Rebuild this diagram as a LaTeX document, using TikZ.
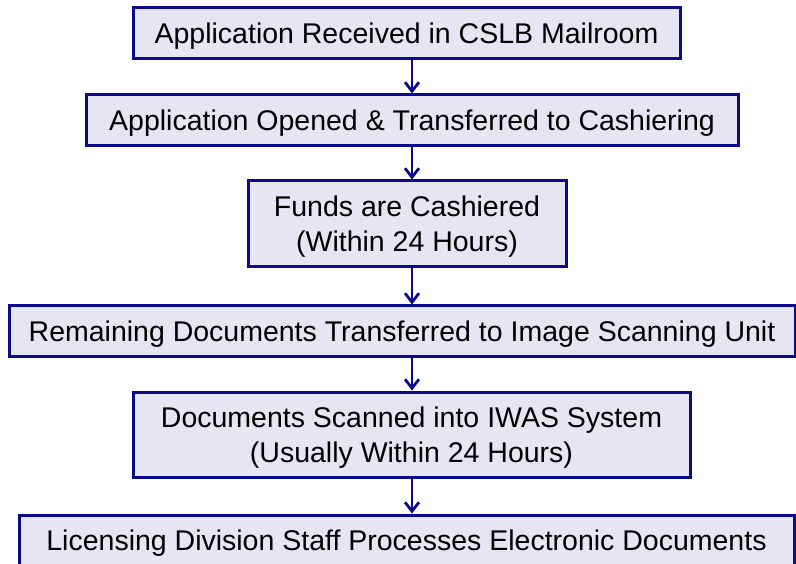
\documentclass[tikz,border=0pt]{standalone}
\usepackage{fontspec}
\setmainfont{Liberation Sans}
\usetikzlibrary{arrows.meta,positioning}
\definecolor{boxfill}{RGB}{230,230,243}
\definecolor{navy}{RGB}{10,10,140}

\begin{document}
\begin{tikzpicture}[x=1pt,y=-1pt,
  stepbox/.style={draw=navy,line width=3pt,fill=boxfill,inner sep=0pt,text depth=0pt,
    minimum height=51pt,align=center,font=\fontsize{28.5}{35}\selectfont},
  arr/.style={draw=navy,line width=2.8pt,-{Straight Barb[length=9pt,width=14pt,line width=2.8pt]}}]
\useasboundingbox (0,0) rectangle (796,564);
\node[stepbox,minimum width=547pt] (b1) at (406.5,33.5) {Application Received in CSLB Mailroom};
\node[stepbox,minimum width=652pt] (b2) at (412,120.5) {Application Opened \& Transferred to Cashiering};
\node[stepbox,minimum width=318pt,minimum height=86pt] (b3) at (407,224) {Funds are Cashiered\\(Within 24 Hours)};
\node[stepbox,minimum width=786pt] (b4) at (402,331.5) {Remaining Documents Transferred to Image Scanning Unit};
\node[stepbox,minimum width=557pt,minimum height=85pt] (b5) at (411.5,434.5) {Documents Scanned into IWAS System\\(Usually Within 24 Hours)};
\node[stepbox,minimum width=775pt] (b6) at (406.5,540.5) {Licensing Division Staff Processes Electronic Documents};
\coordinate (ax) at (412,0);
\draw[arr] (b1.south -| ax) -- (b2.north -| ax);
\draw[arr] (b2.south -| ax) -- (b3.north -| ax);
\draw[arr] (b3.south -| ax) -- (b4.north -| ax);
\draw[arr] (b4.south -| ax) -- (b5.north -| ax);
\draw[arr] (b5.south -| ax) -- (b6.north -| ax);
\end{tikzpicture}
\end{document}
